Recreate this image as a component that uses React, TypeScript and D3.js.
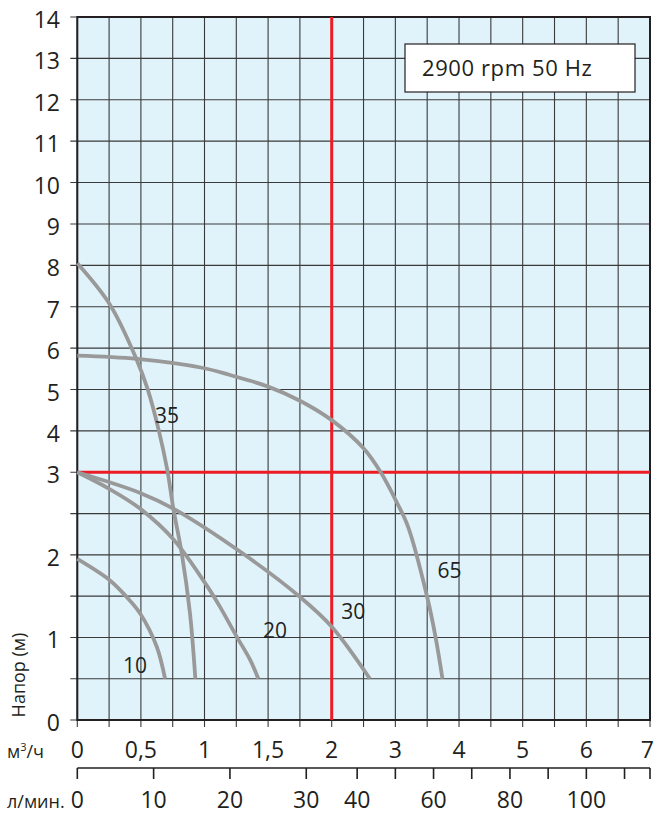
import React from 'react';
import * as d3 from 'd3';

// flow Q (m³/h) vs head H (m)
const curve10 = [[0, 1.95], [0.257, 1.69], [0.388, 1.49], [0.494, 1.29], [0.624, 0.89], [0.69, 0.5]];
const curve20 = [[0, 3.0], [0.25, 2.8], [0.494, 2.56], [0.755, 2.19], [1.017, 1.63], [1.122, 1.37], [1.253, 1.01], [1.358, 0.73], [1.423, 0.5]];
const curve30 = [[0, 3.0], [0.494, 2.75], [0.755, 2.56], [1.279, 2.04], [1.751, 1.49], [2.0, 1.13], [2.6, 0.5]];
const curve35 = [[0, 8.05], [0.257, 7.05], [0.467, 5.72], [0.555, 4.99], [0.64, 4.02], [0.708, 3.05], [0.755, 2.56], [0.821, 2.02], [0.886, 1.29], [0.928, 0.5]];
const curve65 = [[0, 5.82], [0.47, 5.74], [0.99, 5.52], [1.2, 5.35], [1.5, 5.07], [1.75, 4.73], [2.0, 4.26], [2.5, 3.58], [2.77, 3.0], [3.02, 2.64], [3.2, 2.34], [3.5, 1.49], [3.63, 1.01], [3.74, 0.5]];

const curves = [curve10, curve20, curve30, curve35, curve65];
const curveNames = ['10', '20', '30', '35', '65'];
// label anchor (Q, H) for each curve name
const labelPos = [[0.36, 0.57], [1.46, 0.99], [2.15, 1.22], [0.61, 4.2], [3.66, 1.72]];

const xTickLabels = ['0', '0,5', '1', '1,5', '2', '3', '4', '5', '6', '7'];
const xTickValues = [0, 0.5, 1, 1.5, 2, 3, 4, 5, 6, 7];
const yTickValues = d3.range(0, 15);
const xGrid = [...d3.range(0, 2, 0.25), ...d3.range(2, 7.01, 0.5)];
const yGrid = [...d3.range(0, 3, 0.5), ...d3.range(3, 14.01, 1)];
const lpmTicks = d3.range(0, 111, 10);
const lpmLabels = [0, 10, 20, 30, 40, 60, 80, 100];

const redQ = 2;
const redH = 3;

const FONT = '"Open Sans", "DejaVu Sans", sans-serif';

export default function App() {
  const width = 655;
  const height = 815;

  // piecewise linear axes like on the printed sheet
  const x = d3.scaleLinear().domain([0, 2, 7]).range([77.3, 331.7, 650]);
  const y = d3.scaleLinear().domain([0, 3, 14]).range([720, 472.3, 17]);
  const lpm = (v: number) => x(v / 16.6667);

  const line = d3
    .line<number[]>()
    .x((d) => x(d[0]))
    .y((d) => y(d[1]))
    .curve(d3.curveCatmullRom.alpha(0.5));

  const x0 = x(0);
  const x1 = x(7);
  const y0 = y(0);
  const y1 = y(14);
  const axis2 = 768;

  return (
    <svg
      width={width}
      height={height}
      style={{ position: 'absolute', left: 0, top: 0, background: '#fff' }}
      fontFamily={FONT}
    >
      <rect x={x0} y={y1} width={x1 - x0} height={y0 - y1} fill="#e0f3fa" />

      <g stroke="#3a3a3a" strokeWidth={1.1}>
        {xGrid.map((v) => (
          <line key={'gx' + v} x1={x(v)} x2={x(v)} y1={y1} y2={y0 + 7} />
        ))}
        {yGrid.map((v) => (
          <line key={'gy' + v} x1={x0 - 7} x2={x1} y1={y(v)} y2={y(v)} />
        ))}
      </g>

      <rect x={x0} y={y1} width={x1 - x0} height={y0 - y1} fill="none" stroke="#231f20" strokeWidth={2} />

      <g stroke="#ed1c24" strokeWidth={3}>
        <line x1={x(redQ)} x2={x(redQ)} y1={y1} y2={y0} />
        <line x1={x0} x2={x1} y1={y(redH)} y2={y(redH)} />
      </g>

      <g fill="none" stroke="#999" strokeWidth={3.8}>
        {curves.map((c, i) => (
          <path key={'c' + i} d={line(c) || ''} />
        ))}
      </g>

      <g fontSize={21} fill="#231f20">
        {curveNames.map((n, i) => (
          <text key={'l' + n} x={x(labelPos[i][0])} y={y(labelPos[i][1])}>
            {n}
          </text>
        ))}
      </g>

      <rect x={405} y={44} width={230} height={48} fill="#fff" stroke="#231f20" strokeWidth={1.2} />
      <text x={422} y={76} fontSize={22} letterSpacing={0.6} fill="#231f20">
        2900 rpm 50 Hz
      </text>

      <g fontSize={23} fill="#231f20" textAnchor="end">
        {yTickValues.map((v) => (
          <text key={'yt' + v} x={60} y={y(v)} dy={11}>
            {v}
          </text>
        ))}
      </g>

      <text
        transform={`translate(25,${675}) rotate(-90)`}
        fontSize={18}
        textAnchor="middle"
        fill="#231f20"
      >
        Напор (м)
      </text>

      <g fontSize={23} fill="#231f20" textAnchor="middle">
        {xTickValues.map((v, i) => (
          <text
            key={'xt' + v}
            x={i === xTickValues.length - 1 ? 654 : x(v)}
            y={758}
            textAnchor={i === xTickValues.length - 1 ? 'end' : 'middle'}
          >
            {xTickLabels[i]}
          </text>
        ))}
      </g>
      <text x={7} y={758} fontSize={18} fill="#231f20">
        м<tspan dy={-7} fontSize={11}>3</tspan>
        <tspan dy={7}>/ч</tspan>
      </text>

      <g stroke="#231f20" strokeWidth={1.6}>
        <line x1={x0} x2={x1} y1={axis2} y2={axis2} />
        {lpmTicks.map((v) => (
          <line key={'lt' + v} x1={lpm(v)} x2={lpm(v)} y1={axis2} y2={axis2 + 11} />
        ))}
        <line x1={x1} x2={x1} y1={axis2} y2={axis2 + 11} />
      </g>
      <g fontSize={23} fill="#231f20" textAnchor="middle">
        {lpmLabels.map((v) => (
          <text key={'ll' + v} x={lpm(v)} y={808}>
            {v}
          </text>
        ))}
      </g>
      <text x={7} y={808} fontSize={18} fill="#231f20">
        л/мин.
      </text>
    </svg>
  );
}
